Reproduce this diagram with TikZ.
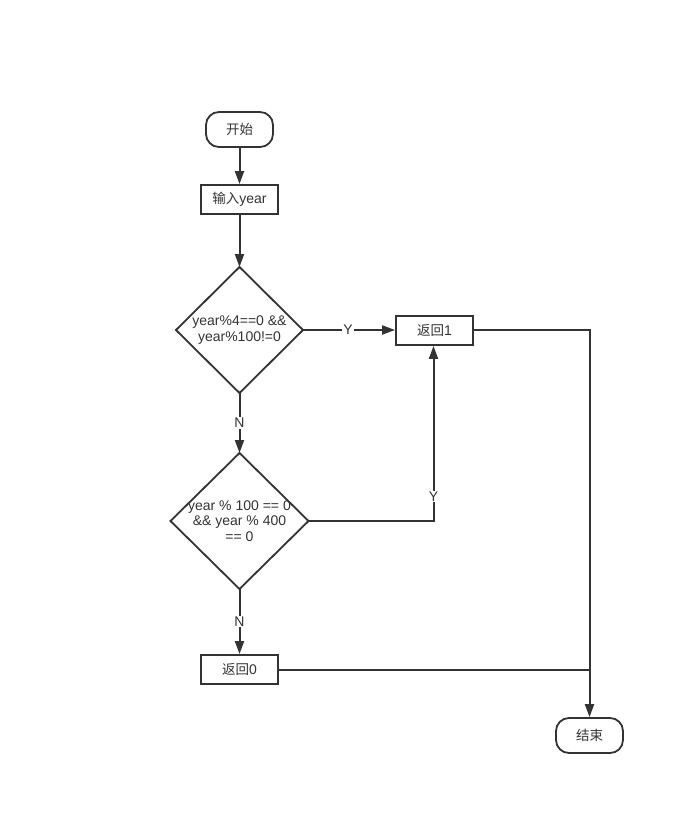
\documentclass[tikz,border=0pt]{standalone}
\usepackage{fontspec}
\setmainfont{Liberation Sans}
\newfontfamily\cjk{Noto Sans CJK SC}
\usetikzlibrary{shapes.geometric,arrows.meta}
\definecolor{ink}{HTML}{333333}
\begin{document}
\begin{tikzpicture}[x=1pt,y=-1pt,
  every node/.style={font=\fontsize{14}{15.5}\selectfont, text=ink},
  term/.style={draw=ink,line width=1.8pt,rounded corners=13pt,minimum width=67pt,minimum height=35pt,inner sep=0pt},
  proc/.style={draw=ink,line width=1.8pt,minimum width=77pt,minimum height=29pt,inner sep=0pt},
  dec/.style={draw=ink,line width=1.8pt,diamond,inner sep=0pt,outer sep=0pt},
  conn/.style={draw=ink,line width=2pt},
  arr/.style={conn,-{Triangle[length=13pt,width=9pt]}},
  lbl/.style={fill=white,inner sep=1pt},
  zh/.style={font=\cjk\fontsize{13.5}{15}\selectfont}]
\useasboundingbox (0,0) rectangle (684,814);

\node[term,zh] (start) at (239.5,129.5) {开始};
\node[proc] (input) at (239.5,199.5) {{\cjk\fontsize{13.5}{15}\selectfont 输入}year};
\node[dec,minimum width=127pt,minimum height=126pt] (d1) at (239.5,330) {};
\node[align=center] (t1) at (d1.center) {year\%4==0 \&\&\\year\%100!=0};
\node[proc] (ret1) at (434.5,330.5) {{\cjk\fontsize{13.5}{15}\selectfont 返回}1};
\node[dec,minimum width=138pt,minimum height=136pt] (d2) at (239.5,521) {};
\node[align=center] (t2) at (d2.center) {year \% 100 == 0\\\&\& year \% 400\\== 0};
\node[proc] (ret0) at (239.5,669.5) {{\cjk\fontsize{13.5}{15}\selectfont 返回}0};
\node[term,zh] (end) at (589.5,735.5) {结束};

\coordinate (c1) at (433.5,521);
\coordinate (c2) at (589.5,330);
\coordinate (c3) at (589.5,669.5);

\draw[arr] (start) -- (input);
\draw[arr] (input) -- (d1.north);
\draw[arr] (d1.east) -- node[lbl,pos=0.49] (ly1) {Y} (d1.east -| ret1.west);
\draw[arr] (d1.south) -- node[lbl,pos=0.5] (ln1) {N} (d2.north);
\draw[arr] (d2.east) -- (c1) -- node[lbl,pos=0.14] (ly2) {Y} (ret1.south -| c1);
\draw[arr] (d2.south) -- node[lbl,pos=0.5] (ln2) {N} (ret0.north);
\draw[arr] (ret1.east |- c2) -- (c2) -- (end.north);
\draw[conn] (ret0.east) -- (c3);
\end{tikzpicture}
\end{document}
